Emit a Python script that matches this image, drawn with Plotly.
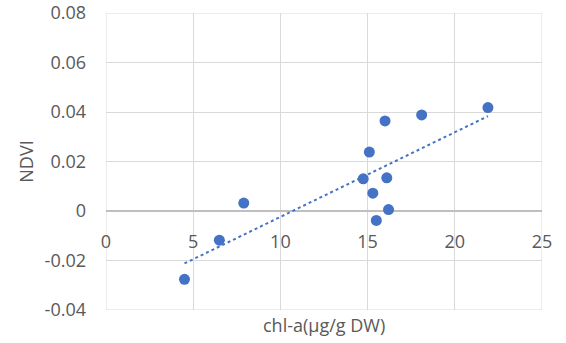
import numpy as np
import plotly.graph_objects as go

chl_a = [4.5, 6.5, 7.9, 14.75, 15.1, 15.3, 15.5, 16.1, 16.2, 16.0, 18.1, 21.9]
ndvi = [-0.0276, -0.0118, 0.0032, 0.0130, 0.0238, 0.0072, -0.0038, 0.0134, 0.0006, 0.0364, 0.0388, 0.0418]

x_ticks = [0, 5, 10, 15, 20, 25]
y_ticks = [-0.04, -0.02, 0, 0.02, 0.04, 0.06, 0.08]
y_tick_text = ["-0.04", "-0.02", "0", "0.02", "0.04", "0.06", "0.08"]
x_range = [0, 25]
y_range = [-0.04, 0.08]

slope, intercept = np.polyfit(chl_a, ndvi, 1)
tx = [min(chl_a), max(chl_a)]
ty = [slope * v + intercept for v in tx]

blue = "#4472C4"
grey_text = "#595959"
grid = "#d9d9d9"
font_family = "Open Sans"

fig = go.Figure()
fig.add_trace(go.Scatter(x=tx, y=ty, mode="lines",
                         line=dict(color=blue, width=2, dash="dot"),
                         hoverinfo="skip", showlegend=False))
fig.add_trace(go.Scatter(x=chl_a, y=ndvi, mode="markers",
                         marker=dict(color=blue, size=11),
                         showlegend=False))

# plot-area border (gridlines at the range edges)
fig.add_shape(type="rect", xref="x", yref="y",
              x0=x_range[0], x1=x_range[1], y0=y_range[0], y1=y_range[1],
              line=dict(color=grid, width=1), layer="below")

fig.update_layout(
    width=566, height=343,
    margin=dict(l=106, r=24, t=13, b=33, autoexpand=False),
    paper_bgcolor="white", plot_bgcolor="white",
    font=dict(family=font_family, size=18, color=grey_text),
    xaxis=dict(range=x_range, tickvals=x_ticks, ticktext=[str(v) for v in x_ticks],
               showgrid=True, gridcolor=grid, gridwidth=1,
               zeroline=False, showline=False, ticks="", automargin=False,
               anchor="free", position=(0 - y_range[0]) / (y_range[1] - y_range[0]),
               ticklabelstandoff=18, ticklabeloverflow="allow",
               tickfont=dict(size=18, color=grey_text)),
    yaxis=dict(range=y_range, tickvals=y_ticks, ticktext=y_tick_text,
               showgrid=True, gridcolor=grid, gridwidth=1,
               zeroline=True, zerolinecolor="#bfbfbf", zerolinewidth=1.5,
               showline=False, ticks="", ticklabelstandoff=19, automargin=False,
               ticklabeloverflow="allow",
               title=dict(text="NDVI", font=dict(size=18, color=grey_text), standoff=6),
               tickfont=dict(size=18, color=grey_text)),
    annotations=[dict(text="chl-a(μg/g DW)", x=12.5, xref="x", y=-0.05, yref="paper",
                      xanchor="center", yanchor="middle", showarrow=False,
                      font=dict(size=18, color=grey_text))],
)

fig.write_html("out.html", config={"displayModeBar": False},
               post_script="document.body.style.margin='0';document.body.style.overflow='hidden';")
